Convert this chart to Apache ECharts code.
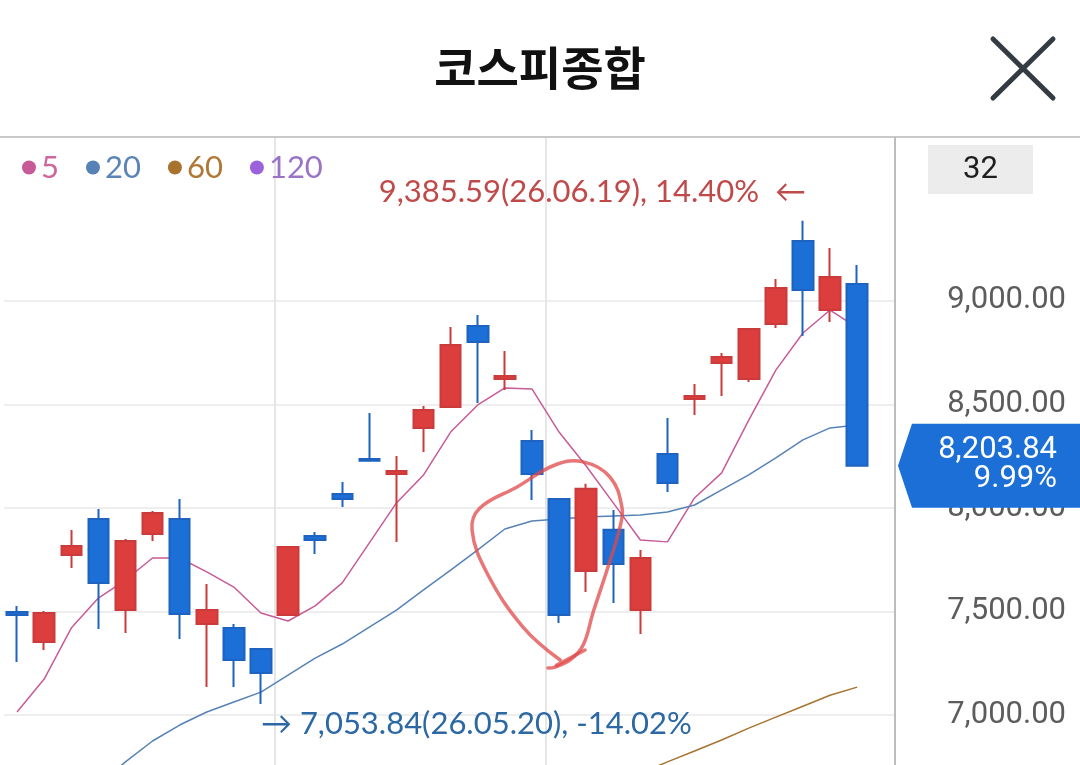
<!DOCTYPE html>
<html><head><meta charset="utf-8">
<script src="https://cdn.jsdelivr.net/npm/echarts@6/dist/echarts.min.js"></script>
<style>html,body{margin:0;padding:0;background:#fff;}#c{width:1080px;height:765px;}</style>
</head><body><div id="c"></div>
<script>
// ---- data ----
const categories = ['26.05.07','26.05.08','26.05.11','26.05.12','26.05.13','26.05.14','26.05.15','26.05.18','26.05.19','26.05.20',
  '26.05.21','26.05.22','26.05.26','26.05.27','26.05.28','26.05.29','26.06.01','26.06.02','26.06.04','26.06.05',
  '26.06.08','26.06.09','26.06.10','26.06.11','26.06.12','26.06.15','26.06.16','26.06.17','26.06.18','26.06.19',
  '26.06.22','26.06.23'];
const opens  = [7497.6,7353,7773,7946,7507,7874,7946,7440,7420,7319, 7483,7864.5,8067,8236,8164,8386,8487,8878,8622,8323, 8043,7696,7894,7507,8260,8526,8699,8622,8888,9288, 8955,9081];
const closes = [7483,7493,7816,7638,7840,7975,7488,7507,7266,7203, 7811,7845,8043,8227,8178,8473,8786,8801,8637,8164, 7483,8092,7729,7758,8120,8540,8728,8863,9061,9052, 9114,8203.84];
const lows   = [7256,7314,7710,7416,7396,7840,7367,7136,7136,7053.84, 7483,7777,8004,8227,7836,8270,8487,8506,8569,8038, 7444,7594,7541,7391,8077,8448,8540,8608,8868,8830, 8897,8203.84];
const highs  = [7527,7502,7893,7995,7850,7985,8043,7633,7440,7319, 7816,7884,8125,8458,8251,8492,8873,8931,8757,8376, 8043,8116,7990,7797,8434,8598,8748,8868,9105,9385.59, 9254,9172];
const ma5   = [7015,7174,7420,7565,7652,7758,7758,7691,7618,7493, 7454,7527,7638,7831,8024,8159,8366,8497,8579,8574, 8366,8202,8024,7845,7836,8048,8169,8424,8665,8844, 8955,8870];
const ma20  = [6310,6436,6552,6663,6774,6875,6952,7015,7063,7111, 7193,7275,7343,7425,7507,7604,7700,7797,7898,7937, 7946,7956,7961,7966,7980,8014,8087,8159,8241,8328, 8386,8400];
const ma60  = [null,null,null,null,null,null,null,null,null,null, null,null,null,null,null,null,null,null,null,null, null,null,6670,6720,6774,6827,6880,6937,6990,7043, 7096,7135];
const ma120 = [];
const maNames = ['5','20','60','120'];
const yTickValues = [7000,7500,8000,8500,9000];
const changeText = '9.99%';
const countText = '32';
const titleText = '코스피종합';
// hand-drawn marker trace in (candle index, value) space
const markTrace = [[20.04,7266],[18.67,7425],[17.34,7686],[16.79,7893],[17.08,7999],[18.45,8101],[19.85,8207],[20.89,8222],
  [21.88,8149],[22.32,8004],[22.25,7908],[21.77,7700],[21.25,7493],[20.89,7338],[20.41,7266],[19.85,7232],[19.59,7227]];
const markTail = [[19.9,7240],[20.96,7314]];

const fmt = v => v.toLocaleString('en-US',{minimumFractionDigits:2,maximumFractionDigits:2});
const Y_MIN = 6500, Y_MAX = 9790;

const chart = echarts.init(document.getElementById('c'));
const option = {
  animation:false,
  backgroundColor:'#fff',
  legend:{
    left:17, top:147, icon:'circle', itemWidth:14, itemHeight:14, itemGap:27, selectedMode:false,
    textStyle:{fontSize:31, fontFamily:'Lato'},
    data:[
      {name:'5', textStyle:{color:'#d0669c'}},
      {name:'20', textStyle:{color:'#5a84ba'}},
      {name:'60', textStyle:{color:'#b07836'}},
      {name:'120', textStyle:{color:'#9a73c6'}}
    ]
  },
  grid:[
    {left:3.5, top:137, width:867.2, height:681.7, outerBoundsMode:'none', containLabel:false},
    {left:4, top:137, width:891, height:681.7, outerBoundsMode:'none', containLabel:false}
  ],
  xAxis:[
    {type:'category', gridIndex:0, data:categories, boundaryGap:true,
     axisLine:{show:false}, axisTick:{show:false}, axisLabel:{show:false},
     splitLine:{show:true, showMinLine:true, showMaxLine:false, interval:(i)=> i===10 || i===20, lineStyle:{color:'#e6e6e6', width:2}}},
    {type:'value', gridIndex:1, min:0, max:1, show:false}
  ],
  yAxis:[
    {type:'value', gridIndex:0, min:Y_MIN, max:Y_MAX, show:false, splitLine:{show:false}},
    {type:'value', gridIndex:1, min:Y_MIN, max:Y_MAX, interval:500, position:'right',
     axisLine:{show:false}, axisTick:{show:false, customValues:yTickValues},
     splitLine:{show:true, lineStyle:{color:'#eeeeee', width:2}},
     axisLabel:{customValues:yTickValues, margin:171, align:'right', color:'#5c5c5c', fontSize:31, fontFamily:'Roboto',
       formatter:v => fmt(v)}}
  ],
  series:[
    {type:'candlestick', name:'price', xAxisIndex:0, yAxisIndex:0, z:3, barWidth:21,
     data:categories.map((_,i)=>[opens[i],closes[i],lows[i],highs[i]]),
     itemStyle:{color:'#dc3e3e', color0:'#1b6fd6', borderColor:'#cc3b3b', borderColor0:'#1d63bf', borderWidth:2}},
    {type:'line', name:maNames[0], xAxisIndex:0, yAxisIndex:0, z:2, data:ma5, color:'#c65b98', showSymbol:false, lineStyle:{width:1.5}},
    {type:'line', name:maNames[1], xAxisIndex:0, yAxisIndex:0, z:2, data:ma20, color:'#5782b6', showSymbol:false, lineStyle:{width:1.5}},
    {type:'line', name:maNames[2], xAxisIndex:0, yAxisIndex:0, z:2, data:ma60, color:'#a8732f', showSymbol:false, lineStyle:{width:1.5}},
    {type:'line', name:maNames[3], xAxisIndex:0, yAxisIndex:0, z:2, data:ma120, color:'#9b62dc', showSymbol:false, lineStyle:{width:1.5}}
  ]
};
chart.setOption(option);

// ---- overlay drawn from data positions ----
const p0 = chart.convertToPixel({gridIndex:0}, [categories[0], Y_MIN]);
const p1 = chart.convertToPixel({gridIndex:0}, [categories[1], Y_MIN]);
const step = p1[0] - p0[0];
const toPx = (idx, v) => [p0[0] + idx*step, chart.convertToPixel({gridIndex:0}, [categories[0], v])[1]];

const last = closes[closes.length-1];
const yLast = toPx(0, last)[1];
let hi = 0, lo = 0;
highs.forEach((v,i)=>{ if (v > highs[hi]) hi = i; });
lows.forEach((v,i)=>{ if (v < lows[lo]) lo = i; });
const pct = v => ((v/last - 1)*100).toFixed(2);
const hiP = toPx(hi, highs[hi]);
const loP = toPx(lo, lows[lo]);

const graphics = [
  {type:'text', z:100, x:540, y:68, style:{text:titleText, fill:'#111', font:'bold 46px "Noto Sans CJK KR"', textAlign:'center', textVerticalAlign:'middle'}},
  {type:'line', z:100, shape:{x1:993,y1:39,x2:1053,y2:98}, style:{stroke:'#343b42', lineWidth:5, lineCap:'round'}},
  {type:'line', z:100, shape:{x1:1053,y1:39,x2:993,y2:98}, style:{stroke:'#343b42', lineWidth:5, lineCap:'round'}},
  {type:'line', z:100, shape:{x1:0,y1:137,x2:1080,y2:137}, style:{stroke:'#c8c8c8', lineWidth:2}},
  {type:'line', z:100, shape:{x1:895,y1:137,x2:895,y2:765}, style:{stroke:'#bdbdbd', lineWidth:2}},
  {type:'rect', z:100, shape:{x:928,y:145,width:105,height:49}, style:{fill:'#ececec'}},
  {type:'text', z:101, x:980.5, y:170, style:{text:countText, fill:'#1e1e1e', font:'31px Roboto', textAlign:'center', textVerticalAlign:'middle'}},
  {type:'polygon', z:100, shape:{points:[[898,yLast],[912,yLast-42],[1080,yLast-42],[1080,yLast+42],[912,yLast+42]]}, style:{fill:'#1b6fd6'}},
  {type:'text', z:101, x:1057, y:yLast-15, style:{text:fmt(last), fill:'#fff', font:'31px Roboto', textAlign:'right', textVerticalAlign:'middle'}},
  {type:'text', z:101, x:1057, y:yLast+14, style:{text:changeText, fill:'#fff', font:'31px Roboto', textAlign:'right', textVerticalAlign:'middle'}},
  {type:'text', z:100, x:hiP[0]+3, y:hiP[1]-29, style:{text:fmt(highs[hi])+'('+categories[hi]+'), '+pct(highs[hi])+'%  \u2190', fill:'#c04a4a', font:'31px Lato, "DejaVu Sans"', textAlign:'right', textVerticalAlign:'middle'}},
  {type:'text', z:100, x:loP[0], y:loP[1]+20, style:{text:'\u2192 '+fmt(lows[lo])+'('+categories[lo]+'), '+pct(lows[lo])+'%', fill:'#2c68a3', font:'31px Lato, "DejaVu Sans"', textAlign:'left', textVerticalAlign:'middle'}},
  {type:'polyline', z:99, shape:{points:markTrace.map(p=>toPx(p[0],p[1])), smooth:0.4}, style:{stroke:'rgba(226,72,72,0.75)', lineWidth:3.5, fill:null, lineCap:'round', lineJoin:'round'}},
  {type:'polyline', z:99, shape:{points:markTail.map(p=>toPx(p[0],p[1]))}, style:{stroke:'rgba(226,72,72,0.75)', lineWidth:3.5, fill:null, lineCap:'round'}}
];
chart.setOption({graphic:{elements:graphics}});
</script>
</body></html>
